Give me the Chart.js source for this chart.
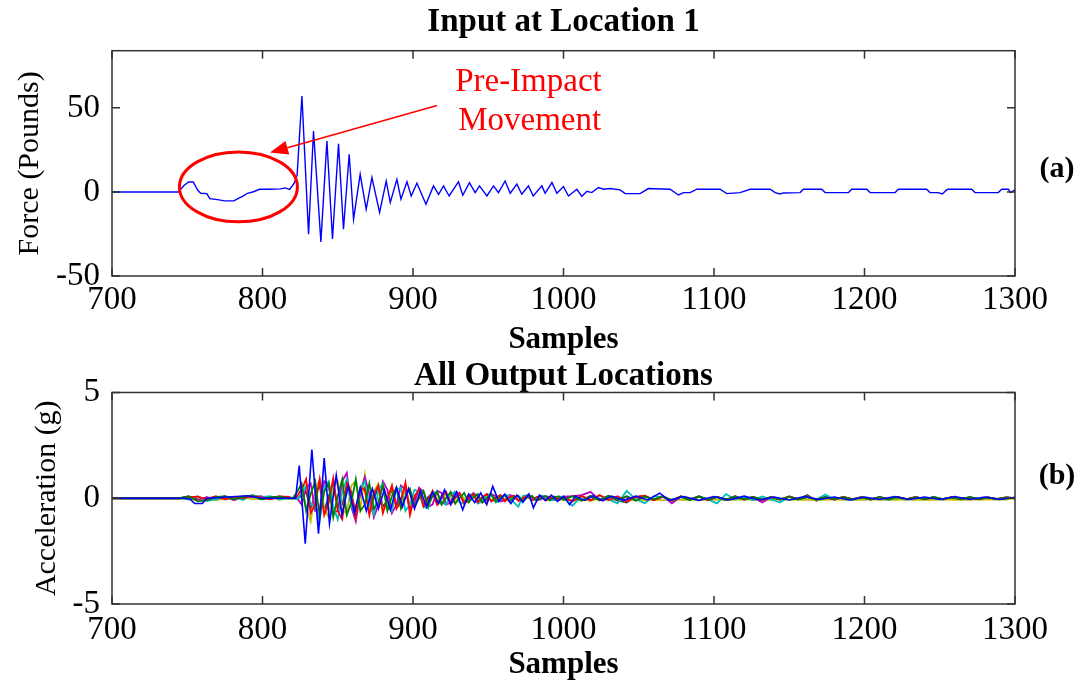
<!DOCTYPE html>
<html>
<head>
<meta charset="utf-8">
<script src="https://cdn.jsdelivr.net/npm/chart.js@4.4.1/dist/chart.umd.min.js"></script>
<style>
html,body{margin:0;padding:0;background:#fff;}
#wrap{position:relative;width:1089px;height:685px;overflow:hidden;background:#fff;}
canvas{position:absolute;left:0;}
#c1{top:0;}
#c2{top:350px;}
</style>
</head>
<body>
<div id="wrap">
<canvas id="c1" width="1089" height="360"></canvas>
<canvas id="c2" width="1089" height="335"></canvas>
</div>
<script>
// ---------- tick labels ----------
const sampleTicks = [700, 800, 900, 1000, 1100, 1200, 1300];
const forceTicks = [-50, 0, 50];
const accelTicks = [-5, 0, 5];

// ---------- (a) input force ----------
const forceSamples = [700,744,748,751,754,757,759,763,765,770,
  775,781,783,787,790,794,798,805,812,815,
  818,821,823,826.2,830.6,833.9,838.8,842.8,846.5,850.5,
  853.8,857.6,860.5,864.9,868.9,872.7,877.8,882.2,884.9,889.3,
  892,896,898.8,902.6,908.6,913.6,917,920.3,924,930.2,
  933.1,937.5,941.3,944.2,949.1,953.5,956.8,961.2,964.6,969,
  972.3,976.7,979.9,985.6,987.8,992.3,995.6,1000,1003.3,1008.9,
  1012.2,1015.5,1018.8,1023.2,1026.5,1031,1037.6,1041,1050.9,1056.4,
  1070.8,1076.4,1079.7,1084.1,1088.6,1104,1108.5,1117.3,1124,1137.3,
  1140.6,1143.9,1146.1,1157.2,1159.4,1171.6,1173.8,1189.3,1191.5,1201.5,
  1203.7,1220.3,1222.5,1241.3,1243.5,1249,1251.7,1254.6,1255.7,1271.2,
  1273.4,1288.9,1291.2,1295.6,1297.1,1300];
const forceValues = [0,0,4,5.9,5.9,1,-0.8,-1,-4,-4.6,
  -5.3,-5.3,-4.3,-2.5,-0.8,0.1,1.6,1.6,1.8,2.4,
  1.5,5,10,57,-25.1,36.2,-29.7,30.2,-28,28.7,
  -22.1,22.4,-16.2,10.5,-10.3,8.5,-12.2,6.5,-6.3,7.5,
  -4.3,6,-2.4,5.2,-7.3,3.6,-1.4,3.6,-2.4,6,
  -2,5.5,-0.4,3.6,-2.4,3.6,-0.4,6.5,-0.8,4.6,
  -1.4,3.6,-2.4,3.6,-0.8,5.6,-0.8,3.2,-2.4,1.6,
  -2.7,0.4,-0.4,2.6,1.6,2,1.2,-1,-1,2,
  1.6,-1.8,-0.4,-0.4,1.6,1.6,-1,-0.4,1.6,1.6,
  -0.4,-1.2,-0.6,-0.4,1.6,1.6,-0.4,-0.4,1.6,1.6,
  -0.4,-0.4,1.6,1.6,-0.4,-0.4,-1.2,1.2,1.6,1.6,
  -0.4,-0.4,1.6,1.6,-0.4,1.2];

// ---------- (b) output accelerations ----------
const blueSamples = [700,748,752,755,760,763,775,790,800,822,
  824.4,828.4,832.8,837.2,841,844.5,849,852.8,857,861,
  865,869,873,877,881,885,889,893,897,901,
  905,909,913,917,921,925,929,933,937,941,
  945,949,953,957,961,965,969,973,977,980,
  984,988,992,996,1000,1004,1008,1014,1020,1026,
  1032,1040,1048,1056,1064,1070,1080,1090,1100,1110,
  1120,1130,1140,1150,1160,1170,1180,1190,1200,1210,
  1220,1230,1240,1250,1260,1270,1280,1290,1300];
const blueAccel = [0,0,-0.05,-0.25,-0.25,0,0.05,0.12,0,0,
  1.55,-2.15,2.3,-1.67,1.9,-1.2,1.1,-0.8,0.6,-0.7,
  0.5,-0.6,0.45,-0.5,0.4,-0.55,0.5,-0.4,0.45,-0.5,
  0.35,-0.4,0.3,-0.25,0.4,-0.3,0.3,-0.55,0.2,-0.2,
  0.25,-0.3,0.56,-0.15,0.2,-0.25,0.15,-0.2,0.2,-0.45,
  0.15,-0.1,0.15,-0.15,0.1,-0.3,0.1,-0.1,0.12,-0.12,
  0.1,-0.1,0.1,-0.08,0.24,-0.1,0.08,-0.1,0.08,-0.08,
  0.1,-0.08,0.06,-0.08,0.08,-0.06,0.06,-0.08,0.06,-0.06,
  0.08,-0.06,0.06,-0.06,0.08,-0.06,0.06,-0.06,0.04];

const outSamples = [700,745,751,757,763,769,775,781,787,793,799,805,811,817,
  820,823,826,829,832,835,838,841,844,847,
  850,853,856,859,862,865,868,871,874,877,
  880,883,886,889,892,895,898,901,904,907,
  910,913,916,919,922,925,928,931,934,937,
  940,943,946,949,952,955,958,961,964,967,
  970,973,976,979,982,985,988,991,994,997,
  1000,
  1006,1012,1018,1024,1030,1036,1042,1048,1054,1060,
  1066,1072,1078,1084,1090,1096,1102,1108,1114,1120,
  1126,1132,1138,1144,1150,1156,1162,1168,1174,1180,
  1186,1192,1198,1204,1210,1216,1222,1228,1234,1240,
  1246,1252,1258,1264,1270,1276,1282,1288,1294,1300];

const greenAccel = [0,0,0.1,-0.15,-0.1,0.05,0.1,-0.05,0.05,0.12,-0.05,0.05,0.08,0,
  0,0.3,0.7,-0.6,0.2,0.8,-0.9,0.3,0.7,-0.9,
  0.1,0.9,-0.8,-0.2,0.9,-0.6,-0.3,0.7,-0.5,-0.2,
  0.6,-0.6,0.1,0.5,-0.5,0.1,0.45,-0.4,0,0.35,
  -0.35,0.1,0.3,-0.3,0,0.3,-0.25,0,0.25,-0.2,
  0.05,0.2,-0.2,0,0.2,-0.15,0.05,0.15,-0.15,0.05,
  0.12,-0.12,0.05,0.12,-0.1,0,0.1,-0.1,0.05,0.08,
  -0.08,
  0.1,-0.12,0.08,-0.1,0.12,-0.08,0.1,-0.12,0.08,-0.05,
  0.1,-0.1,0.06,-0.08,0.08,-0.06,0.05,-0.08,0.08,-0.05,
  0.06,-0.06,0.05,-0.05,0.06,-0.05,0.05,-0.06,0.05,-0.04,
  0.05,-0.05,0.04,-0.05,0.05,-0.04,0.04,-0.05,0.04,-0.04,
  0.05,-0.04,0.04,-0.04,0.05,-0.04,0.04,-0.04,0.03,0];

const redAccel = [0,0,0.05,0.08,-0.05,0.1,-0.05,0.08,0,0.1,0.05,-0.05,0.1,0.05,
  0,0.1,0.4,0.9,-0.7,-0.3,0.9,-0.8,-0.2,0.95,
  -0.6,-1.0,0.7,0.3,-0.9,0.5,0.4,-0.8,0.2,0.6,
  -0.7,0,0.6,-0.5,-0.1,0.75,-0.8,0.1,0.4,-0.4,
  -0.1,0.35,-0.3,0.1,0.3,-0.3,0,0.25,-0.25,0.05,
  0.2,-0.2,0.05,0.2,-0.15,0,0.15,-0.15,0.05,0.12,
  -0.12,0,0.12,-0.1,0.05,0.1,-0.1,0,0.08,-0.08,
  0.05,
  -0.15,0.12,-0.1,0.15,-0.08,0.1,-0.15,0.05,0.12,-0.1,
  0.08,-0.12,0.1,-0.06,0.08,-0.1,0.06,-0.08,0.1,-0.06,
  0.05,-0.08,0.06,-0.06,0.08,-0.05,0.06,-0.06,0.05,-0.06,
  0.06,-0.04,0.05,-0.06,0.05,-0.05,0.06,-0.04,0.05,-0.05,
  0.04,-0.05,0.05,-0.04,0.04,-0.05,0.04,-0.04,0.04,0];

const cyanAccel = [0,0,-0.05,0.1,-0.12,-0.05,0.08,0.05,-0.08,0.15,0.05,0.1,-0.05,0,
  0,-0.05,0.2,0.6,-0.3,-0.4,-1.1,0.5,0.8,-0.4,
  -1.0,0.3,0.9,-0.3,-0.9,0.4,0.8,-0.3,-0.8,0.4,
  0.7,-0.4,-0.6,0.4,0.5,-0.6,-0.3,0.4,0.3,-0.4,
  -0.5,0.25,0.3,-0.2,-0.3,0.2,0.3,-0.2,-0.25,0.15,
  0.2,-0.25,-0.15,0.2,0.15,-0.2,-0.1,0.15,0.1,-0.2,
  -0.4,0.1,0.15,-0.1,-0.05,0.12,0.1,-0.1,-0.08,0.08,
  0.05,
  -0.35,0.1,-0.1,0.12,-0.05,-0.24,0.35,-0.05,-0.24,0.1,
  0.05,-0.12,0.1,-0.08,0.08,-0.05,-0.24,0.2,-0.05,0.05,
  -0.1,0.08,-0.05,-0.2,0.08,-0.05,0.08,-0.06,0.18,-0.06,
  0.06,-0.08,0.06,-0.06,0.06,-0.08,0.05,-0.06,0.06,-0.05,
  0.06,-0.06,0.05,-0.05,0.06,-0.05,0.04,-0.05,0.04,0];

const magentaAccel = [0,0,0.08,-0.1,0.05,-0.05,0.1,-0.1,0.08,0.05,0.1,-0.05,0.05,0.08,
  0,0,-0.3,0.5,0.7,-0.6,-0.5,0.8,0.6,-0.7,
  -0.6,0.8,1.2,-0.4,-1.1,0.3,1.0,0.2,-0.9,-0.3,
  0.8,0.4,-0.7,-0.3,0.6,0.4,-0.5,-0.2,0.5,0.3,
  -0.4,-0.3,0.35,0.25,-0.3,-0.2,0.3,0.2,-0.25,-0.1,
  0.25,0.1,-0.2,-0.1,0.2,0.1,-0.15,-0.1,0.15,0.1,
  -0.12,-0.05,0.12,0.05,-0.1,-0.05,0.1,0.05,-0.08,0,
  0.08,
  0.1,0.15,0.3,-0.1,0.12,-0.12,0.08,-0.1,0.12,-0.08,
  0.1,-0.24,0.08,-0.06,0.1,-0.08,0.06,-0.08,0.08,-0.06,
  0.06,-0.2,0.06,-0.06,0.08,-0.05,0.06,-0.06,0.05,-0.06,
  0.06,-0.05,0.05,-0.06,0.06,-0.04,0.05,-0.05,0.06,-0.04,
  0.05,-0.05,0.04,-0.04,0.05,-0.04,0.04,-0.04,0.04,0];

const yellowAccel = [0,0,-0.05,-0.08,0.05,-0.1,0,-0.05,0.1,-0.05,0,0.05,-0.08,0,
  0,0,0.5,-0.4,-1.1,0.4,0.9,-0.5,-0.9,0.5,
  0.8,-0.6,-0.7,0.6,0.8,-0.5,1.1,-0.6,0.3,0.7,
  -0.6,-0.2,0.6,-0.4,-0.3,0.5,-0.3,-0.3,0.4,-0.1,
  -0.35,0.3,0,-0.3,0.25,0,-0.25,0.2,0,-0.2,
  0.15,0,-0.18,0.1,-0.05,-0.15,0.1,-0.05,-0.12,0.08,
  -0.05,-0.12,0.05,-0.05,-0.1,0.05,-0.05,-0.1,0.02,-0.05,
  -0.08,
  -0.1,-0.05,-0.12,-0.02,-0.1,-0.05,-0.12,-0.04,-0.1,-0.06,
  -0.1,-0.05,-0.08,-0.06,-0.1,-0.05,-0.08,-0.06,-0.08,-0.05,
  -0.08,-0.06,-0.08,-0.05,-0.08,-0.06,-0.07,-0.06,-0.08,-0.05,
  -0.07,-0.06,-0.07,-0.05,-0.07,-0.06,-0.07,-0.05,-0.07,-0.06,
  -0.07,-0.05,-0.07,-0.06,-0.07,-0.05,-0.06,-0.06,-0.06,0];

const blackAccel = [0,0,0.05,-0.05,0,0.05,-0.05,0,0.05,0.08,-0.05,0,0.05,0,
  0,0,0.1,0.3,-0.5,0.2,0.6,-0.6,0.1,0.7,
  -0.5,-0.3,0.6,0.1,-0.6,0.2,0.5,-0.5,0,0.5,
  -0.4,-0.1,0.4,-0.35,0,0.35,-0.35,0,0.3,-0.3,
  0.05,0.25,-0.25,0,0.2,-0.2,0.05,0.2,-0.15,0,
  0.15,-0.15,0,0.12,-0.12,0.05,0.12,-0.1,0,0.1,
  -0.1,0,0.08,-0.08,0,0.08,-0.06,0,0.06,-0.06,
  0,
  0.1,-0.1,0.12,-0.08,0.1,-0.1,-0.2,0.08,0.1,-0.08,
  0.06,-0.1,0.08,-0.06,0.08,-0.05,0.06,-0.08,0.06,-0.05,
  0.06,-0.06,0.05,-0.06,0.06,-0.05,0.15,-0.12,0.05,-0.06,
  0.05,-0.05,0.05,-0.05,0.04,-0.05,0.05,-0.04,0.05,-0.04,
  0.05,-0.04,0.04,-0.05,0.04,-0.04,0.04,-0.03,0.03,0];

// ---------- helpers ----------
const SERIF = "'Liberation Serif', 'Times New Roman', serif";
Chart.defaults.color = '#000';
Chart.defaults.font.family = SERIF;

function pts(xs, ys) { return xs.map((x, i) => ({ x: x, y: ys[i] })); }
function lineDs(xs, ys, color, w) {
  return { data: pts(xs, ys), borderColor: color, backgroundColor: color, borderWidth: w,
           pointRadius: 0, tension: 0, fill: false };
}

const frame = {
  id: 'frame',
  afterDraw(chart, args, opts) {
    const { ctx, chartArea: a, scales } = chart;
    ctx.save();
    ctx.strokeStyle = '#333';
    ctx.lineWidth = 1.5;
    ctx.strokeRect(a.left, a.top, a.right - a.left, a.bottom - a.top);
    const L = 8;
    ctx.beginPath();
    scales.x.ticks.forEach(t => {
      const px = scales.x.getPixelForValue(t.value);
      ctx.moveTo(px, a.bottom); ctx.lineTo(px, a.bottom - L);
      ctx.moveTo(px, a.top); ctx.lineTo(px, a.top + L);
    });
    scales.y.ticks.forEach(t => {
      const py = scales.y.getPixelForValue(t.value);
      ctx.moveTo(a.left, py); ctx.lineTo(a.left + L, py);
      ctx.moveTo(a.right, py); ctx.lineTo(a.right - L, py);
    });
    ctx.stroke();
    if (opts.label) {
      ctx.fillStyle = '#000';
      ctx.font = 'bold 30px ' + SERIF;
      ctx.textAlign = 'center';
      ctx.textBaseline = 'middle';
      ctx.fillText(opts.label, a.right + 42, scales.y.getPixelForValue(opts.labelAt));
    }
    ctx.restore();
  }
};

const preImpact = {
  id: 'preImpact',
  afterDatasetsDraw(chart) {
    const { ctx, scales: { x, y } } = chart;
    ctx.save();
    const red = '#ff0000';
    const cx = x.getPixelForValue(784), cy = y.getPixelForValue(3);
    const rx = x.getPixelForValue(823.2) - cx;
    const ry = cy - y.getPixelForValue(23.8);
    ctx.strokeStyle = red; ctx.lineWidth = 3;
    ctx.beginPath(); ctx.ellipse(cx, cy, rx, ry, 0, 0, Math.PI * 2); ctx.stroke();
    const x0 = x.getPixelForValue(916), y0 = y.getPixelForValue(51.4);
    const x1 = x.getPixelForValue(805), y1 = y.getPixelForValue(23.4);
    const ang = Math.atan2(y1 - y0, x1 - x0);
    const hl = 18, hw = 7;
    const bx = x1 - hl * Math.cos(ang), by = y1 - hl * Math.sin(ang);
    ctx.lineWidth = 1.5;
    ctx.beginPath(); ctx.moveTo(x0, y0); ctx.lineTo(bx, by); ctx.stroke();
    ctx.fillStyle = red;
    ctx.beginPath();
    ctx.moveTo(x1, y1);
    ctx.lineTo(bx + hw * Math.sin(ang), by - hw * Math.cos(ang));
    ctx.lineTo(bx - hw * Math.sin(ang), by + hw * Math.cos(ang));
    ctx.closePath(); ctx.fill();
    ctx.font = '33px ' + SERIF;
    ctx.textAlign = 'left';
    ctx.textBaseline = 'alphabetic';
    ctx.fillText('Pre-Impact', x.getPixelForValue(928), y.getPixelForValue(60.3));
    ctx.fillText('Movement', x.getPixelForValue(930), y.getPixelForValue(36.6));
    ctx.restore();
  }
};

function xScale(pad, height) {
  return {
    type: 'linear', min: 700, max: 1300,
    afterBuildTicks: s => { s.ticks = sampleTicks.map(v => ({ value: v })); },
    afterFit: s => { s.height = height; },
    grid: { display: false, drawTicks: false },
    border: { display: false },
    ticks: { padding: pad, autoSkip: false, maxRotation: 0, callback: v => String(v),
             font: { size: 33, family: SERIF }, color: '#000' },
    title: { display: true, text: 'Samples', color: '#000',
             font: { size: 31, weight: 'bold', family: SERIF, lineHeight: 1.2 },
             padding: { top: 0, bottom: 1.4 } }
  };
}
function yScale(min, max, tickVals, title, titlePad) {
  return {
    min: min, max: max,
    afterBuildTicks: s => { s.ticks = tickVals.map(v => ({ value: v })); },
    afterFit: s => { s.width = 112; },
    grid: { display: false, drawTicks: false },
    border: { display: false },
    ticks: { padding: 12, autoSkip: false, callback: v => String(v),
             font: { size: 33, family: SERIF }, color: '#000' },
    title: { display: true, text: title, color: '#000',
             font: { size: 30, family: SERIF, lineHeight: 1 },
             padding: { top: titlePad, bottom: 0 } }
  };
}

// ---------- chart (a) ----------
new Chart(document.getElementById('c1'), {
  type: 'line',
  data: { datasets: [lineDs(forceSamples, forceValues, '#0000ff', 1.4)] },
  options: {
    responsive: false, animation: false, devicePixelRatio: 1,
    layout: { padding: { left: 0, right: 74, top: 0, bottom: 0 } },
    plugins: {
      legend: { display: false }, tooltip: { enabled: false },
      title: { display: true, text: 'Input at Location 1', color: '#000', fullSize: false,
               font: { size: 33, weight: 'bold', family: SERIF, lineHeight: 1 },
               padding: { top: 5.5, bottom: 12.2 } },
      frame: { label: '(a)', labelAt: 13.5 }
    },
    scales: { x: xScale(4.2, 84), y: yScale(-50, 84, forceTicks, 'Force (Pounds)', 15) }
  },
  plugins: [frame, preImpact]
});

// ---------- chart (b) ----------
new Chart(document.getElementById('c2'), {
  type: 'line',
  data: { datasets: [
    lineDs(blueSamples, blueAccel, '#0000ff', 1.6),
    lineDs(outSamples, greenAccel, '#008000', 1.8),
    lineDs(outSamples, redAccel, '#ff0000', 1.8),
    lineDs(outSamples, cyanAccel, '#00bfbf', 1.8),
    lineDs(outSamples, magentaAccel, '#bf00bf', 1.8),
    lineDs(outSamples, yellowAccel, '#bfbf00', 1.8),
    lineDs(outSamples, blackAccel, '#404040', 1.8)
  ] },
  options: {
    responsive: false, animation: false, devicePixelRatio: 1,
    layout: { padding: { left: 0, right: 74, top: 0, bottom: 0 } },
    plugins: {
      legend: { display: false }, tooltip: { enabled: false },
      title: { display: true, text: 'All Output Locations', color: '#000', fullSize: false,
               font: { size: 33, weight: 'bold', family: SERIF, lineHeight: 1 },
               padding: { top: 9.5, bottom: 0 } },
      frame: { label: '(b)', labelAt: 1.05 }
    },
    scales: { x: xScale(6.2, 81), y: yScale(-5, 5, accelTicks, 'Acceleration (g)', 32) }
  },
  plugins: [frame]
});
</script>
</body>
</html>
